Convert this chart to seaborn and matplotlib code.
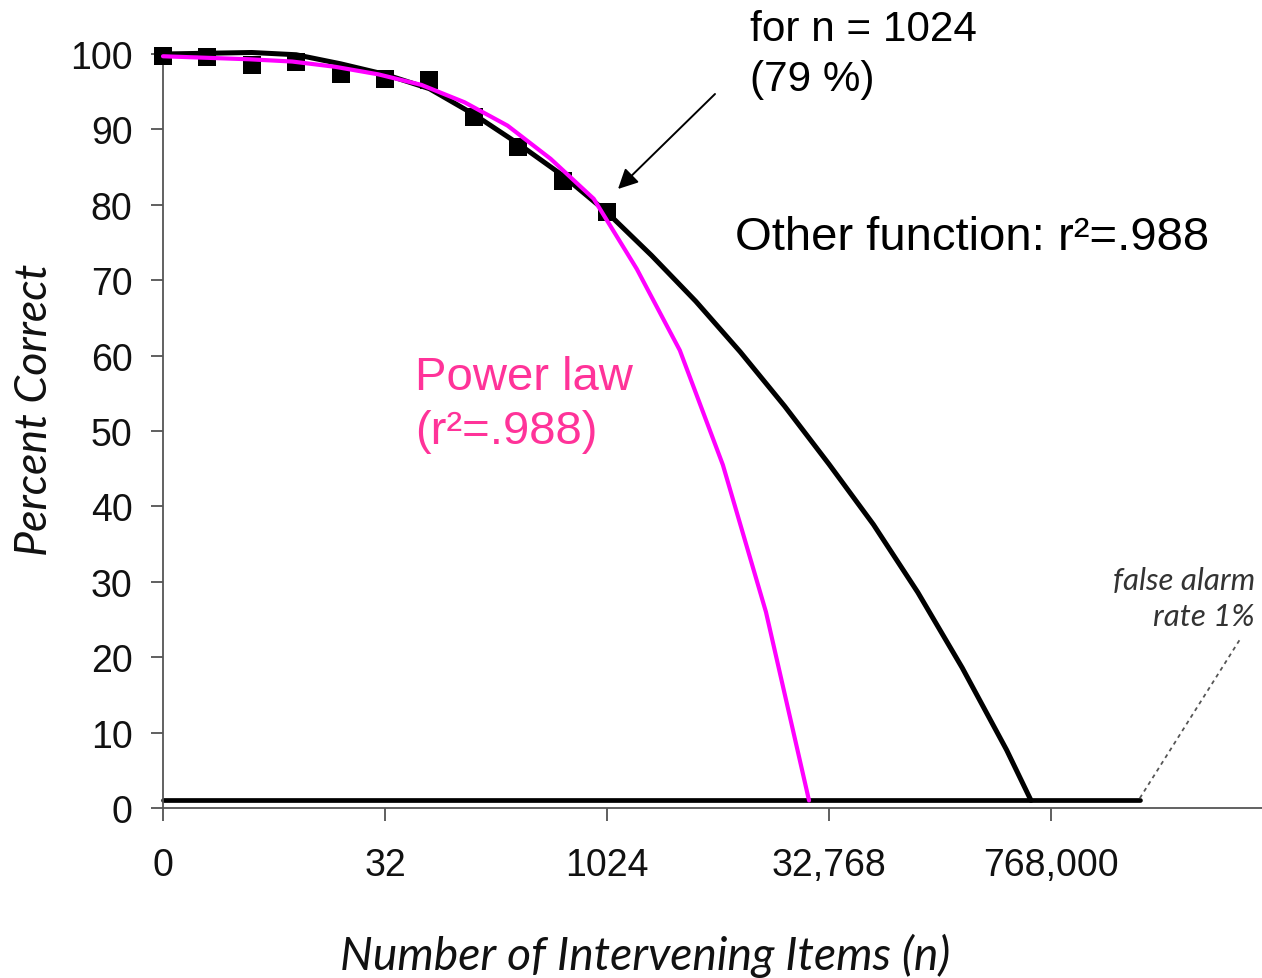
import matplotlib
matplotlib.use("Agg")
import matplotlib.pyplot as plt
import seaborn as sns
import pandas as pd

# ---------------- data ----------------
# x positions are log2(n) ; tick labels give n
obs_log2n = [0, 1, 2, 3, 4, 5, 6, 7, 8, 9, 10]
obs_pct = [99.8, 99.6, 98.6, 98.9, 97.3, 96.7, 96.5, 91.7, 87.6, 83.1, 79.0]

other_log2n = [0, 1, 2, 3, 4, 5, 6, 7, 8, 9, 10, 11, 12, 13, 14, 15, 16, 17, 18, 19, 19.55]
other_pct = [100.0, 100.1, 100.2, 99.9, 98.7, 97.3, 95.4, 92.0, 88.1, 83.9, 79.0,
             73.3, 67.2, 60.5, 53.3, 45.6, 37.6, 28.6, 18.6, 7.7, 1.0]

power_log2n = [0, 0.97, 1.94, 2.91, 3.88, 4.85, 5.82, 6.79, 7.76, 8.73, 9.70,
               10.67, 11.64, 12.61, 13.58, 14.55]
power_pct = [99.7, 99.5, 99.3, 99.0, 98.3, 97.3, 95.9, 93.6, 90.5, 86.1, 80.8,
             71.5, 60.7, 45.5, 26.0, 1.0]

false_alarm_log2n = [0, 22.0]
false_alarm_pct = [1, 1]

leader_log2n = [22.0, 24.26]
leader_pct = [1.3, 22.4]

x_ticks = [0, 5, 10, 15, 20]
x_tick_labels = ["0", "32", "1024", "32,768", "768,000"]
y_ticks = [0, 10, 20, 30, 40, 50, 60, 70, 80, 90, 100]

# ---------------- style ----------------
sns.set_theme(style="ticks")
plt.rcParams["font.family"] = ["Liberation Sans", "DejaVu Sans"]

W, H = 1262, 979
fig = plt.figure(figsize=(W / 100, H / 100), dpi=100)
left_px, right_px, bottom_px, top_px = 163, 1262, 809, 50
ax = fig.add_axes([left_px / W, (H - bottom_px) / H,
                   (right_px - left_px) / W, (bottom_px - top_px) / H])

x_max = (right_px - left_px) / 44.4
ax.set_xlim(0, x_max)
ax.set_ylim(0, (bottom_px - top_px) / 7.54)

obs_df = pd.DataFrame({"log2n": obs_log2n, "pct": obs_pct})
other_df = pd.DataFrame({"log2n": other_log2n, "pct": other_pct})
power_df = pd.DataFrame({"log2n": power_log2n, "pct": power_pct})
fa_df = pd.DataFrame({"log2n": false_alarm_log2n, "pct": false_alarm_pct})

sns.lineplot(data=fa_df, x="log2n", y="pct", color="black", linewidth=3.4,
             ax=ax, zorder=2, clip_on=False)
sns.scatterplot(data=obs_df, x="log2n", y="pct", marker="s", s=165, color="black",
                edgecolor="black", linewidth=0, ax=ax, zorder=3, clip_on=False)
sns.lineplot(data=other_df, x="log2n", y="pct", color="black", linewidth=3.6,
             ax=ax, zorder=4, clip_on=False)
sns.lineplot(data=power_df, x="log2n", y="pct", color="#ff00ff", linewidth=3.0,
             ax=ax, zorder=5, clip_on=False)

ax.plot(leader_log2n, leader_pct, linestyle=(0, (2.2, 2.2)), color="#555555",
        linewidth=1.3, clip_on=False)

# axes styling
for s in ["top", "right"]:
    ax.spines[s].set_visible(False)
for s in ["left", "bottom"]:
    ax.spines[s].set_color("#555555")
    ax.spines[s].set_linewidth(1.3)
ax.set_xticks(x_ticks)
ax.set_xticklabels(x_tick_labels)
ax.set_yticks(y_ticks)
ax.tick_params(axis="both", direction="out", length=9, width=1.2, colors="#444444",
               labelsize=27, labelcolor="#111111")
ax.tick_params(axis="y", pad=13)
ax.tick_params(axis="x", pad=19)

lab_font = ["Lato", "DejaVu Sans"]
ax.set_xlabel("Number of Intervening Items (n)", fontstyle="italic", family=lab_font,
              fontsize=34, color="#111111")
ax.set_ylabel("Percent Correct", fontstyle="italic", family=lab_font,
              fontsize=34, color="#111111")
ax.xaxis.label.set_verticalalignment("center")
ax.yaxis.label.set_verticalalignment("center")
ax.xaxis.set_label_coords((645 - left_px) / (right_px - left_px),
                          (bottom_px - 956) / (bottom_px - top_px))
ax.yaxis.set_label_coords((35 - left_px) / (right_px - left_px),
                          (bottom_px - 410) / (bottom_px - top_px))

def px2data(px, py):
    return (px - left_px) / 44.4, (bottom_px - py) / 7.54

t_for = ax.text(*px2data(750, 55), "for n = 1024\n(79 %)", ha="left", va="center",
                fontsize=30, color="black", linespacing=1.32)
t_other = ax.text(*px2data(735, 238), "Other function: r²=.988", ha="left", va="center",
                  fontsize=34, color="black")
t_pow = ax.text(*px2data(415, 405), "Power law\n(r²=.988)", ha="left", va="center",
                fontsize=34, color="#ff3399", linespacing=1.27)
t_fa = ax.text(*px2data(1255, 599), "false alarm\nrate 1%", ha="right", va="center",
               fontsize=20, color="#333333", fontstyle="italic", family=lab_font,
               linespacing=1.38)

ax.annotate("", xy=px2data(618, 190), xytext=px2data(715, 95),
            arrowprops=dict(arrowstyle="-|>", color="black", lw=1.4,
                            mutation_scale=30, shrinkA=0, shrinkB=0))

# fit text widths to the reference
fig.canvas.draw()
r = fig.canvas.get_renderer()
def fit(t, target, use_height=False):
    bb = t.get_window_extent(r)
    cur = bb.height if use_height else bb.width
    t.set_fontsize(t.get_fontsize() * target / cur)

fit(ax.xaxis.label, 610)
fit(ax.yaxis.label, 292, use_height=True)
fit(t_for, 227)
fit(t_other, 475)
fit(t_pow, 218)
fit(t_fa, 142)

fig.savefig("out.png", dpi=100, facecolor="white")
